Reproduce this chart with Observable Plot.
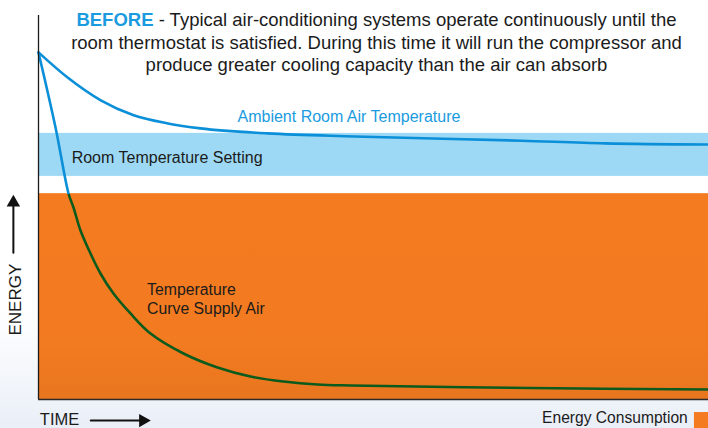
<!DOCTYPE html>
<html>
<head>
<meta charset="utf-8">
<script src="https://cdn.jsdelivr.net/npm/d3@7"></script>
<script src="https://cdn.jsdelivr.net/npm/@observablehq/plot@0.6"></script>
<style>
  html, body { margin: 0; padding: 0; }
  body {
    width: 708px; height: 428px; overflow: hidden; position: relative;
    font-family: "Liberation Sans", Arial, Helvetica, sans-serif;
    background: linear-gradient(to bottom, #ffffff 0px, #ffffff 310px, #f3f6fb 380px, #e9eef7 428px);
  }
  #title {
    position: absolute; left: 0; top: 9px; width: 753px;
    text-align: center; font-size: 18.5px; line-height: 22.5px; color: #1b1b1b;
    pointer-events: none;
  }
  #title b { color: #1a9be0; font-weight: bold; }
  #chart { position: absolute; left: 0; top: 0; }
</style>
</head>
<body>
<div id="chart"></div>
<div id="title"><b>BEFORE</b> - Typical air-conditioning systems operate continuously until the<br>room thermostat is satisfied. During this time it will run the compressor and<br>produce greater cooling capacity than the air can absorb</div>
<script>
// Time (0–100) and energy (0–100)
const ambientTime   = [0, 4.3, 9.3, 14.2, 19.3, 24.2, 34.2, 47.2, 72.1, 84.5, 100];
const ambientEnergy = [90.4, 83.9, 77.9, 74.0, 71.9, 70.6, 69.3, 68.5, 67.4, 66.7, 66.4];

const supplyTime   = [0, 2.54, 4.48, 5.22, 6.27, 7.76, 9.25, 11.19, 13.73, 16.72, 21.64, 26.72, 31.64, 36.57, 41.64, 46.57, 73.4, 100];
const supplyEnergy = [90.36, 70.83, 53.65, 50.0, 44.01, 38.02, 32.81, 27.60, 22.40, 17.19, 11.98, 8.33, 5.99, 4.69, 3.91, 3.65, 2.99, 2.60];

const settingBand = [58.1, 69.3];   // room temperature setting (low, high)
const consumptionTop = 53.6;        // energy consumption level

const labels = [
  {text: "Ambient Room Air Temperature", t: 29.7, e: 73.9, color: "#1a9be0", size: 16},
  {text: "Room Temperature Setting", t: 4.95, e: 63.1, color: "#1b1b1b", size: 16},
  {text: "Temperature\nCurve Supply Air", t: 16.2, e: 26.3, color: "#1b1b1b", size: 15.8}
];

const toPts = (xs, ys) => xs.map((x, i) => ({x, y: ys[i]}));
const ambient = toPts(ambientTime, ambientEnergy);
const supply = toPts(supplyTime, supplyEnergy);

const defs = (index, scales) => {
  const yCut = scales.y(consumptionTop);
  const svg = d3.create("svg:defs");
  const g = svg.append("linearGradient").attr("id", "orangeGrad")
    .attr("x1", 0).attr("y1", 0).attr("x2", 0).attr("y2", 1);
  g.append("stop").attr("offset", "0%").attr("stop-color", "#f47b20");
  g.append("stop").attr("offset", "75%").attr("stop-color", "#f27a20");
  g.append("stop").attr("offset", "100%").attr("stop-color", "#e8761f");
  const s = svg.append("linearGradient").attr("id", "supplyGrad")
    .attr("gradientUnits", "userSpaceOnUse")
    .attr("x1", 0).attr("y1", 0).attr("x2", 0).attr("y2", 428);
  s.append("stop").attr("offset", yCut / 428).attr("stop-color", "#0a8fd8");
  s.append("stop").attr("offset", yCut / 428).attr("stop-color", "#0c5a1c");
  return svg.node();
};

const font = "'Liberation Sans', Arial, Helvetica, sans-serif";

const plot = Plot.plot({
  width: 708,
  height: 428,
  margin: 0,
  x: {domain: [0, 100], range: [38, 708], axis: null},
  y: {domain: [0, 100], range: [399, 15], axis: null},
  style: {fontFamily: font, background: "transparent", overflow: "visible"},
  marks: [
    defs,
    Plot.rect([{}], {x1: 0, x2: 101, y1: 0, y2: consumptionTop, fill: "url(#orangeGrad)"}),
    Plot.rect([{}], {x1: 0, x2: 101, y1: settingBand[0], y2: settingBand[1], fill: "#9dd9f4"}),
    Plot.line(ambient, {x: "x", y: "y", stroke: "#0a8fd8", strokeWidth: 2.6, curve: "monotone-x"}),
    Plot.line(supply, {x: "x", y: "y", stroke: "url(#supplyGrad)", strokeWidth: 2.6, curve: "catmull-rom"}),
    Plot.ruleX([0], {y1: 0, y2: 100, stroke: "#1b1b1b", strokeWidth: 1.3}),
    Plot.ruleY([0], {x1: 0, x2: 101, stroke: "#2a2a2a", strokeWidth: 1.3}),
    Plot.text(labels, {x: "t", y: "e", text: "text", fill: "color", textAnchor: "start",
      fontSize: d => d.size, lineHeight: 1.2}),
    // axis titles with arrows
    Plot.text(["ENERGY"], {x: -3.5, y: 26.0, text: d => d, rotate: -90, fontSize: 17, fill: "#1b1b1b"}),
    Plot.line([{x: -3.75, y: 38.2}, {x: -3.75, y: 52}], {x: "x", y: "y", stroke: "#111", strokeWidth: 2}),
    Plot.dot([{x: -3.75, y: 51.3}], {x: "x", y: "y", symbol: "triangle", r: 5, fill: "#111", stroke: null}),
    Plot.text(["TIME"], {x: 0.2, y: -5.2, text: d => d, textAnchor: "start", fontSize: 16.5, fill: "#1b1b1b"}),
    Plot.line([{x: 7.8, y: -5.5}, {x: 15.6, y: -5.5}], {x: "x", y: "y", stroke: "#111", strokeWidth: 2}),
    Plot.dot([{x: 15.6, y: -5.5}], {x: "x", y: "y", symbol: "triangle", r: 5, rotate: 90, fill: "#111", stroke: null}),
    // legend
    Plot.text(["Energy Consumption"], {x: 96.9, y: -4.9, text: d => d, textAnchor: "end", fontSize: 15.6, fill: "#1b1b1b"}),
    Plot.rect([{}], {x1: 97.9, x2: 100.4, y1: -3.4, y2: -7.6, fill: "#f47b20"})
  ]
});
document.getElementById("chart").appendChild(plot);
</script>
</body>
</html>
